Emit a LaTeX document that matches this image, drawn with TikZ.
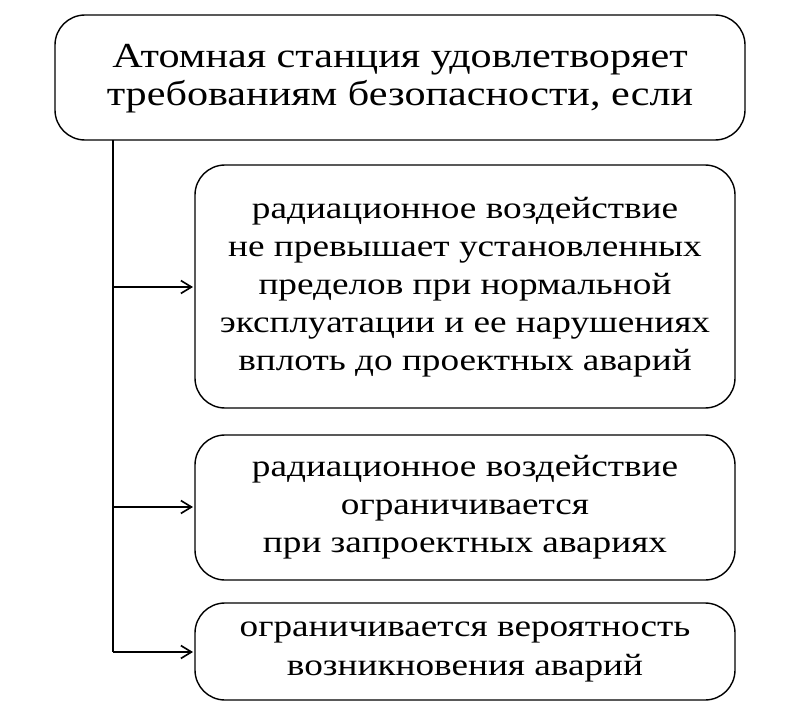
\documentclass[tikz,border=0pt]{standalone}
\usepackage{fontspec}
\setmainfont{Liberation Serif}[FakeStretch=1.2]
\usetikzlibrary{arrows.meta}
\begin{document}
\begin{tikzpicture}[x=0.03cm,y=-0.03cm,
  bx/.style={draw,line width=1.2pt,rounded corners=0.9cm},
  txt/.style={align=center,font=\fontsize{30}{32.5}\selectfont},
  itxt/.style={align=center,font=\fontsize{26.5}{32.5}\selectfont},
  arr/.style={line width=1.2pt,-{Straight Barb[length=9pt,width=11pt,line width=1.4pt]}}]
\useasboundingbox (0,0) rectangle (800,726);
\draw[bx] (55,15) rectangle (745,140);
\node[txt] (t) at (400,79) {Атомная станция удовлетворяет\\требованиям безопасности, если};
\draw[bx] (195,165) rectangle (735,408);
\node[itxt] (a) at (465,287) {радиационное воздействие\\не превышает установленных\\пределов при нормальной\\эксплуатации и ее нарушениях\\вплоть до проектных аварий};
\draw[bx] (195,435) rectangle (735,580);
\node[itxt] (b) at (465,507) {радиационное воздействие\\ограничивается\\при запроектных авариях};
\draw[bx] (195,603) rectangle (735,700);
\node[itxt] (c) at (465,652) {ограничивается вероятность\\возникновения аварий};
\coordinate (s) at (113,140);
\coordinate (e) at (113,652);
\draw[line width=1.2pt] (s) -- (e);
\draw[arr] (113,287) -- (193,287);
\draw[arr] (113,507) -- (193,507);
\draw[arr] (e) -- (193,652);
\end{tikzpicture}
\end{document}
